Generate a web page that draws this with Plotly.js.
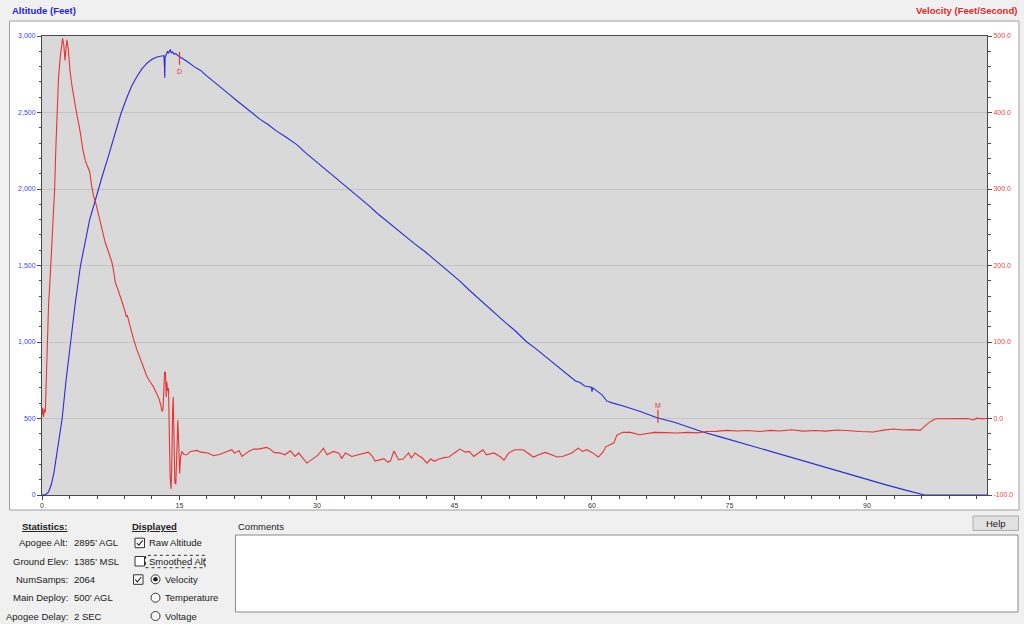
<!DOCTYPE html>
<html>
<head>
<meta charset="utf-8">
<script src="https://cdn.plot.ly/plotly-3.0.1.min.js"></script>
<style>
  html, body { margin: 0; padding: 0; background: #f0f0f0; }
  #chart { width: 1024px; height: 624px; }
</style>
</head>
<body>
<div id="chart"></div>
<script>
// ---------------- DATA ----------------
const altTime = [0,0.4,0.7,1.0,1.3,1.6,1.9,2.2,2.6,3.1,3.6,4.2,4.7,5.2,5.74,6.15,6.6,7.1,7.6,8.2,8.6,9.27,9.8,10.36,10.9,11.45,12.0,12.54,13.0,13.3,13.36,13.39,13.43,13.55,13.7,13.8,13.9,14.0,14.1,14.25,14.4,14.6,14.8,15.1,15.8,16.6,17.3,18.0,18.7,19.5,20.3,21.2,22.0,22.9,23.8,24.7,25.6,26.6,27.8,28.8,29.8,30.8,31.8,32.7,33.6,34.6,35.6,36.6,37.7,38.7,39.7,40.7,41.7,42.7,43.6,44.6,45.6,46.6,47.5,48.5,49.5,50.5,51.5,52.3,52.9,53.8,54.7,55.6,56.5,57.4,58.2,58.7,59.2,59.95,60.0,60.1,60.6,61.1,61.6,62.2,63.5,65.2,67.1,69.0,70.5,72.2,74.0,76.0,78.0,80.0,82.0,84.0,86.0,88.0,90.0,92.0,94.0,95.3,96.3,103.1];
const altFeet = [0,3,18,65,145,255,375,500,735,1000,1240,1500,1660,1800,1910,2000,2090,2185,2290,2420,2490,2600,2675,2735,2785,2822,2848,2863,2870,2872,2800,2727,2860,2876,2900,2888,2905,2912,2890,2896,2880,2886,2872,2862,2835,2800,2775,2738,2705,2668,2625,2580,2542,2500,2455,2420,2378,2340,2290,2235,2185,2135,2090,2045,2000,1948,1895,1840,1785,1735,1690,1640,1595,1545,1500,1450,1398,1340,1290,1235,1185,1130,1080,1035,1000,960,915,870,825,785,745,735,712,705,675,700,680,655,615,602,580,548,505,475,445,410,380,345,310,275,243,208,173,138,103,68,35,13,0,0];

const velTime = [0,0.08,0.16,0.26,0.36,0.45,0.54,0.64,0.72,0.85,0.97,1.10,1.27,1.38,1.50,1.63,1.80,2.00,2.15,2.25,2.38,2.51,2.62,2.72,2.87,3.05,3.27,3.45,3.63,3.80,4.00,4.18,4.45,4.72,4.95,5.20,5.40,5.63,5.90,6.18,6.50,6.90,7.25,7.63,7.80,8.00,8.30,8.55,8.80,9.10,9.20,9.30,9.50,9.75,10.00,10.35,10.73,11.10,11.45,11.80,12.18,12.45,12.73,12.95,13.10,13.20,13.30,13.38,13.47,13.55,13.62,13.70,13.80,13.90,13.98,14.08,14.16,14.25,14.32,14.42,14.50,14.60,14.70,14.82,14.92,15.02,15.12,15.27,15.50,15.81,16.2,16.9,17.3,17.63,18.1,18.7,19.45,19.9,20.72,21.0,21.5,21.82,22.2,22.55,23.1,23.6,24.5,24.9,25.3,26.0,26.5,27.1,27.6,28.0,28.9,29.6,30.1,30.7,31.1,31.8,32.4,32.7,33.1,33.8,34.7,35.6,36.0,36.35,37.3,37.7,38.0,38.4,38.9,39.4,39.8,40.0,40.3,40.7,41.1,41.5,42.0,42.4,42.8,43.3,44.0,44.4,45.0,45.6,46.2,46.6,47.1,47.6,48.1,48.5,49.3,50.0,50.4,50.9,51.6,52.5,53.2,53.6,54.2,54.9,55.6,56.2,56.8,57.3,57.8,58.5,59.0,59.4,60.0,60.7,61.2,61.5,62.0,62.4,62.7,62.9,63.4,64.2,65.2,66.0,66.8,68.0,69.2,70.5,71.5,72.5,73.5,74.7,75.8,77.0,78.3,79.5,80.5,81.8,83.0,84.3,85.5,86.8,88.0,89.3,90.7,91.8,92.9,94.0,95.0,95.8,96.5,97.0,97.5,98.5,100.0,101.0,101.6,102.0,102.5,103.1];
const velFps = [5,14,2,12,8,45,100,125,150,175,200,235,270,300,350,400,445,474,490,497,488,468,484,495,483,455,435,420,409,398,387,374,352,337,330,323,305,291,280,267,250,230,218,204,194,178,168,160,150,138,133,135,125,113,103,90,77,65,55,48,41,34,27,18,9,12,45,61,60,28,48,36,40,-40,-76,-92,-60,10,28,-40,-84,-86,-30,-2,-35,-72,-50,-43,-47,-47.4,-43,-41.7,-44,-44.3,-45,-48.7,-46.8,-44.3,-40.8,-45.2,-42,-49.6,-46.5,-43,-40,-40,-37.8,-40,-44.3,-45.2,-47.4,-42.2,-49.6,-45,-58.3,-52.5,-48,-39,-47.4,-43,-45.5,-52.5,-45,-49.6,-46.5,-44,-48.7,-55.6,-52.5,-57,-56,-42.5,-53.9,-53,-47.4,-45,-51.7,-45,-48.7,-51.7,-58.3,-53,-56,-53,-50.8,-50.4,-45,-40,-44,-43,-49.6,-45,-40.8,-47.4,-45,-50,-54.5,-45.2,-40.8,-40.8,-47.4,-50.4,-47.4,-44.3,-47.4,-50.4,-49.6,-47,-45,-38.7,-43,-40.8,-44.3,-50.4,-44,-37,-34.3,-31.8,-22,-20.5,-18.1,-18.2,-21.2,-19.5,-18.2,-18.5,-19,-18.2,-18.8,-17,-16.8,-15.5,-16.3,-15.6,-17,-15.5,-16.3,-14.8,-16.5,-15.6,-16.5,-15,-16.3,-17,-17.7,-15.2,-13.8,-15,-14.6,-15.5,-8,-3.5,-0.3,0,0.3,0,-2,0.4,-0.5,0];

// flight events (deployment markers)
const eventTime = [15.0, 67.2];
const eventLevel = [2854, 3];          // altitude (ft) for D, velocity (ft/s) for M
const eventAxis = ['y', 'y2'];
const eventLabel = ['D', 'M'];

// axis ticks
const xTickVals = [0, 15, 30, 45, 60, 75, 90];
const xTickText = ['0', '15', '30', '45', '60', '75', '90'];
const altTickVals = [0, 500, 1000, 1500, 2000, 2500, 3000];
const altTickText = ['0', '500', '1,000', '1,500', '2,000', '2,500', '3,000'];
const velTickVals = [-100, 0, 100, 200, 300, 400, 500];
const velTickText = ['-100.0', '0.0', '100.0', '200.0', '300.0', '400.0', '500.0'];

// panel texts
const statLabels = ['Apogee Alt:', 'Ground Elev:', 'NumSamps:', 'Main Deploy:', 'Apogee Delay:'];
const statValues = ["2895' AGL", "1385' MSL", '2064', "500' AGL", '2 SEC'];
const displayItems = ['Raw Altitude', 'Smoothed Alt', 'Velocity', 'Temperature', 'Voltage'];

// ---------------- LAYOUT HELPERS ----------------
const L = 42, T = 36, W = 945, H = 459;
function px(x) { return (x - L) / W; }
function py(y) { return (T + H - y) / H; }

const FONT = 'Liberation Sans, Arial, sans-serif';
const BLUE = '#2b2bd9', RED = '#e83434';
const AXC = '#4a4a4a';

const shapes = [];
const annotations = [];

// chart frame and plot area
shapes.push({type:'rect', xref:'paper', yref:'paper', x0:px(9.5), x1:px(1019), y0:py(510), y1:py(21),
  fillcolor:'#ffffff', line:{color:'#a0a0a0', width:1}, layer:'below'});
shapes.push({type:'rect', xref:'paper', yref:'paper', x0:0, x1:1, y0:0, y1:1,
  fillcolor:'#d9d9d9', line:{width:0}, layer:'below'});

// axis headers
annotations.push({xref:'paper', yref:'paper', x:px(10), y:py(10.5), xanchor:'left', yanchor:'middle', showarrow:false,
  text:'<b>Altitude (Feet)</b>', font:{family:FONT, size:9.5, color:'#2424d8'}});
annotations.push({xref:'paper', yref:'paper', x:px(1018.5), y:py(10.5), xanchor:'right', yanchor:'middle', showarrow:false,
  text:'<b>Velocity (Feet/Second)</b>', font:{family:FONT, size:9.5, color:'#e02a2a'}});

// event markers
eventTime.forEach((t, i) => {
  shapes.push({type:'line', xref:'x', yref:eventAxis[i], ysizemode:'pixel', yanchor:eventLevel[i],
    x0:t, x1:t, y0:-6.5, y1:6.5, line:{color:RED, width:1.2}, layer:'above'});
  annotations.push({xref:'x', yref:eventAxis[i], x:t, y:eventLevel[i], yshift: i === 0 ? -13 : 11,
    text:eventLabel[i], showarrow:false, xanchor:'center', yanchor:'middle',
    font:{family:FONT, size:7, color:RED}});
});

// statistics panel
const txt = {family:FONT, size:9.5, color:'#1a1a1a'};
annotations.push({xref:'paper', yref:'paper', x:px(44), y:py(526.5), xanchor:'center', yanchor:'middle', showarrow:false,
  text:'<u><b>Statistics:</b></u>', font:txt});
statLabels.forEach((s, i) => {
  const yy = 542.7 + i * 18.33;
  annotations.push({xref:'paper', yref:'paper', x:px(69.5), y:py(yy), xanchor:'right', yanchor:'middle', showarrow:false,
    text:s, font:txt});
  annotations.push({xref:'paper', yref:'paper', x:px(71.5), y:py(yy), xanchor:'left', yanchor:'middle', showarrow:false,
    text:statValues[i], font:txt});
});

// displayed panel
annotations.push({xref:'paper', yref:'paper', x:px(154.5), y:py(526.5), xanchor:'center', yanchor:'middle', showarrow:false,
  text:'<u><b>Displayed</b></u>', font:txt});
const rowY = [542.7, 561, 579.3, 597.7, 616];
const textX = [146.5, 146.5, 162.5, 162.5, 162.5];
displayItems.forEach((s, i) => {
  annotations.push({xref:'paper', yref:'paper', x:px(textX[i]), y:py(rowY[i]), xanchor:'left', yanchor:'middle', showarrow:false,
    text:s, font:txt});
});
// checkboxes
const boxes = [[135, 538.2], [135, 556.5], [133.5, 574.8]];
boxes.forEach((b, i) => {
  shapes.push({type:'rect', xref:'paper', yref:'paper', x0:px(b[0]), x1:px(b[0] + 9.5), y0:py(b[1] + 9.5), y1:py(b[1]),
    fillcolor:'#ffffff', line:{color:'#333333', width:1}});
  if (i !== 1) {
    shapes.push({type:'path', xref:'paper', yref:'paper',
      path:'M' + px(b[0] + 1.8) + ',' + py(b[1] + 4.8) + ' L' + px(b[0] + 3.8) + ',' + py(b[1] + 7) + ' L' + px(b[0] + 7.8) + ',' + py(b[1] + 2.2),
      line:{color:'#222222', width:1.1}});
  }
});
// focus rectangle around "Smoothed Alt"
shapes.push({type:'rect', xref:'paper', yref:'paper', x0:px(145.5), x1:px(205), y0:py(567.7), y1:py(555.3),
  line:{color:'#333333', width:1, dash:'dot'}});
// radio buttons
[579.3, 597.7, 616].forEach((cy, i) => {
  shapes.push({type:'circle', xref:'paper', yref:'paper', x0:px(151), x1:px(160), y0:py(cy + 4.5), y1:py(cy - 4.5),
    fillcolor:'#ffffff', line:{color:'#333333', width:1}});
  if (i === 0) {
    shapes.push({type:'circle', xref:'paper', yref:'paper', x0:px(153.2), x1:px(157.8), y0:py(cy + 2.3), y1:py(cy - 2.3),
      fillcolor:'#222222', line:{width:0}});
  }
});

// comments box
annotations.push({xref:'paper', yref:'paper', x:px(235.5), y:py(526), xanchor:'left', yanchor:'middle', showarrow:false,
  text:'Comments', font:txt});
shapes.push({type:'rect', xref:'paper', yref:'paper', x0:px(235.5), x1:px(1018), y0:py(612), y1:py(535),
  fillcolor:'#ffffff', line:{color:'#8a8a8a', width:1}});

// help button
shapes.push({type:'rect', xref:'paper', yref:'paper', x0:px(973), x1:px(1018.5), y0:py(530.5), y1:py(516),
  fillcolor:'#e1e1e1', line:{color:'#adadad', width:1}});
annotations.push({xref:'paper', yref:'paper', x:px(995.7), y:py(523.3), xanchor:'center', yanchor:'middle', showarrow:false,
  text:'Help', font:txt});

// ---------------- TRACES ----------------
const traces = [
  {x: altTime, y: altFeet, type:'scatter', mode:'lines', yaxis:'y', name:'Altitude',
   line:{color:BLUE, width:1.1}, hoverinfo:'skip'},
  {x: velTime, y: velFps, type:'scatter', mode:'lines', yaxis:'y2', name:'Velocity',
   line:{color:RED, width:1.1}, hoverinfo:'skip'}
];

const layout = {
  width: 1024, height: 624,
  margin: {l: L, r: 1024 - L - W, t: T, b: 624 - T - H, pad: 0},
  paper_bgcolor: '#f0f0f0',
  plot_bgcolor: 'rgba(0,0,0,0)',
  showlegend: false,
  font: {family: FONT},
  xaxis: {
    range: [0, 103.1], tickmode:'array', tickvals: xTickVals, ticktext: xTickText,
    ticks:'outside', ticklen:4, tickcolor:AXC, tickwidth:1,
    showline:true, linecolor:AXC, linewidth:1, mirror:true,
    showgrid:false, zeroline:false, fixedrange:true,
    tickfont:{family:FONT, size:7, color:'#333333'},
    minor:{tickmode:'linear', tick0:0, dtick:3, ticks:'outside', ticklen:2.5, tickcolor:AXC, showgrid:false}
  },
  yaxis: {
    range: [0, 3000], tickmode:'array', tickvals: altTickVals, ticktext: altTickText,
    ticks:'outside', ticklen:4, tickcolor:AXC, tickwidth:1,
    showline:true, linecolor:AXC, linewidth:1,
    showgrid:true, gridcolor:'#c4c4c4', gridwidth:1, zeroline:false, fixedrange:true,
    tickfont:{family:FONT, size:7, color:'#4646e6'},
    minor:{tickmode:'linear', tick0:0, dtick:100, ticks:'outside', ticklen:2.5, tickcolor:AXC, showgrid:false}
  },
  yaxis2: {
    range: [-100, 500], overlaying:'y', side:'right', tickmode:'array', tickvals: velTickVals, ticktext: velTickText,
    ticks:'outside', ticklen:4, tickcolor:AXC, tickwidth:1,
    showline:true, linecolor:AXC, linewidth:1,
    showgrid:false, zeroline:false, fixedrange:true,
    tickfont:{family:FONT, size:7, color:'#e64646'},
    minor:{tickmode:'linear', tick0:-100, dtick:20, ticks:'outside', ticklen:2.5, tickcolor:AXC, showgrid:false}
  },
  shapes: shapes,
  annotations: annotations
};

Plotly.newPlot('chart', traces, layout, {displayModeBar:false, staticPlot:true});
</script>
</body>
</html>
